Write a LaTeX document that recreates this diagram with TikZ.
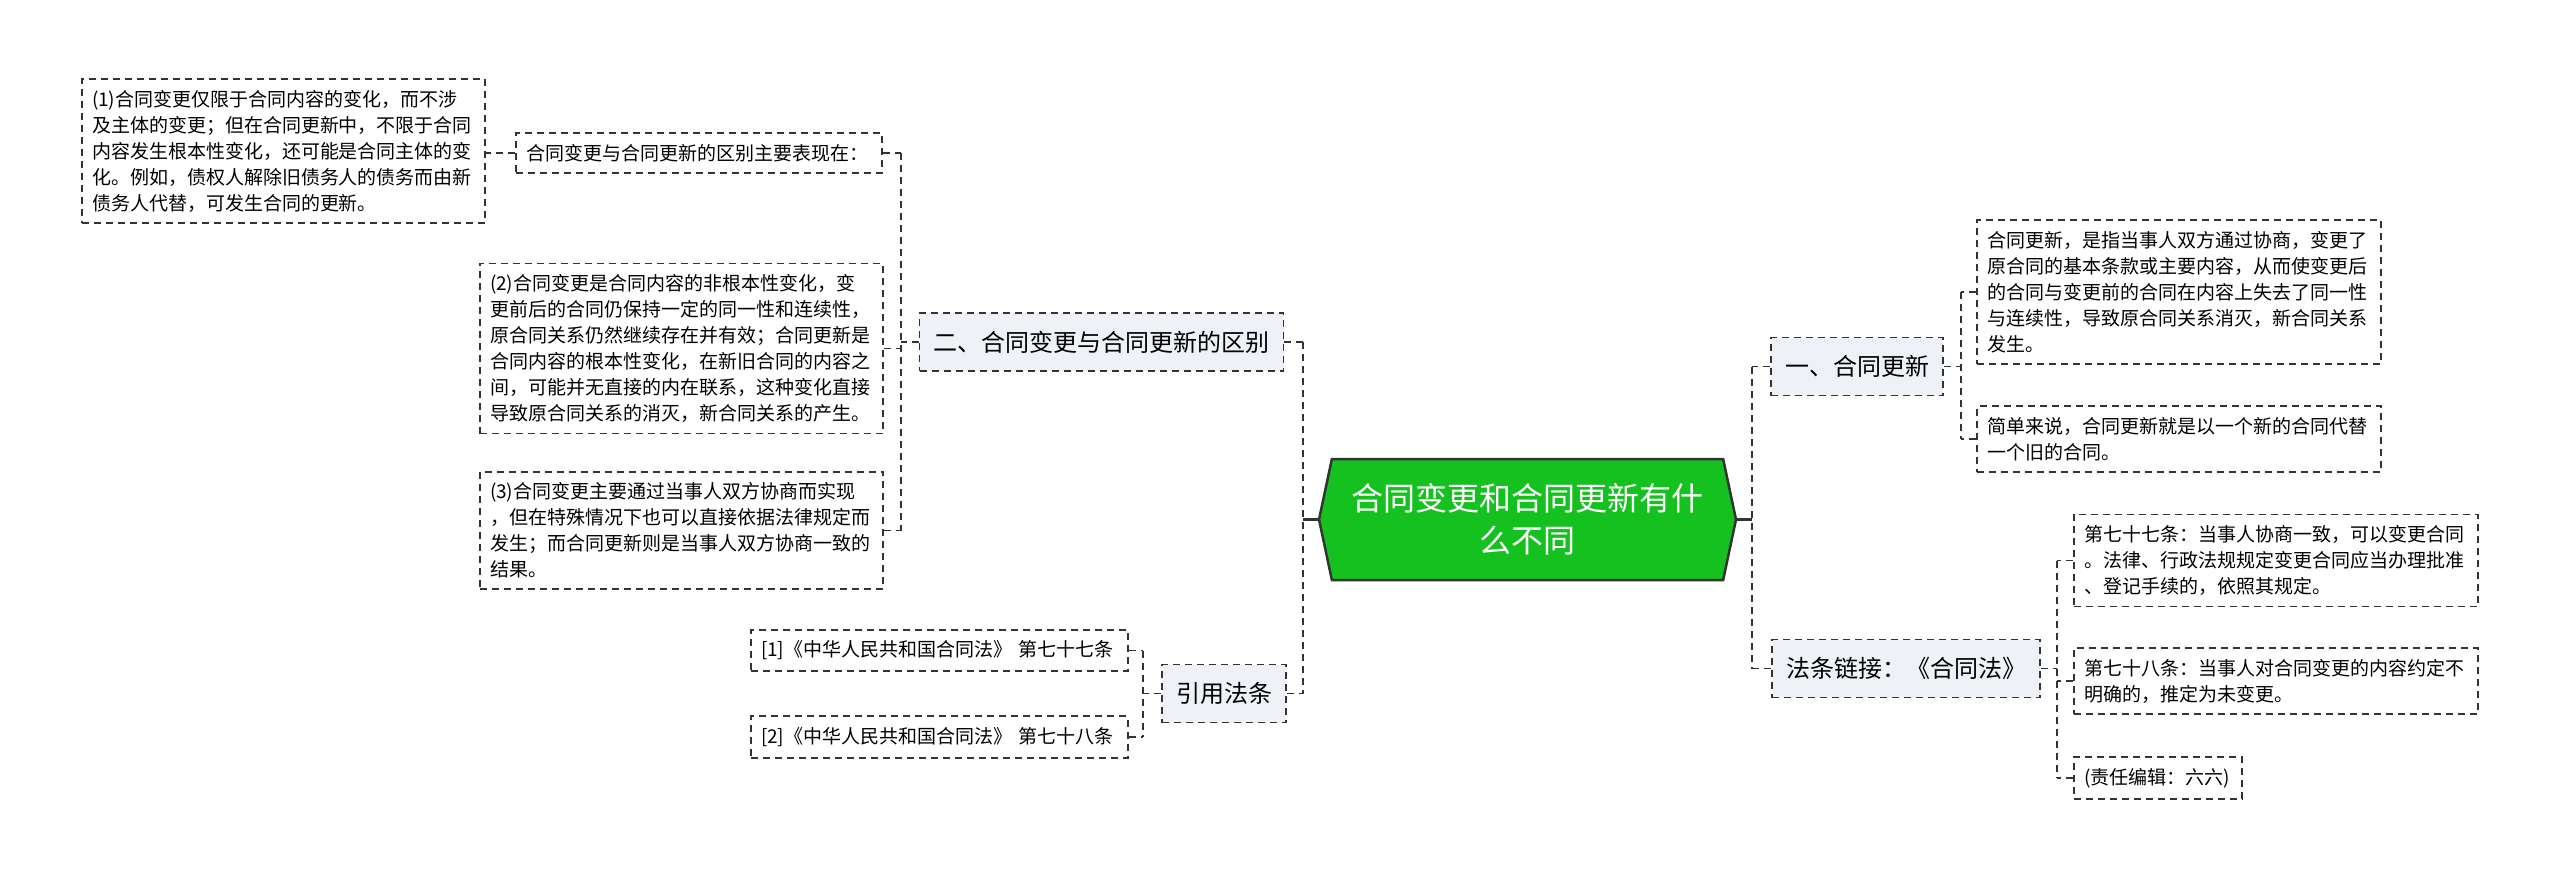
\documentclass[tikz,border=0pt]{standalone}
\usepackage{fontspec}
\usepackage{xcolor}
\usepackage{tikz}
\usetikzlibrary{positioning,shapes.symbols}
\newfontfamily\cjk{Noto Sans CJK SC}
\definecolor{edge}{HTML}{333333}
\definecolor{tagbg}{HTML}{EEF1F5}
\definecolor{rootbg}{HTML}{15C11F}

\begin{document}
\begin{tikzpicture}[x=1pt,y=-1pt,
 leaf/.style={draw=edge,line width=1.8pt,dash pattern=on 7pt off 5pt,align=left,inner xsep=10pt,inner ysep=11pt,font=\cjk\fontsize{19}{26}\selectfont},
 tag/.style={draw=edge,fill=tagbg,line width=1.8pt,dash pattern=on 7pt off 5pt,inner xsep=14pt,minimum height=58pt,font=\cjk\fontsize{24}{30}\selectfont},
 root/.style={shape=signal,signal to=east and west,signal pointer angle=156,draw=edge,fill=rootbg,line width=2.5pt,text=white,align=center,minimum width=417pt,minimum height=121pt,font=\cjk\fontsize{32}{42}\selectfont},
 link/.style={draw=edge,line width=1.8pt,dash pattern=on 7pt off 5pt},
 stem/.style={draw=edge,line width=2.5pt}]
\useasboundingbox[fill=white] (0,0) rectangle (2560,883);

% centre
\node[root] (root) at (1527.5,519.5) {合同变更和合同更新有什\\么不同};

% left branch
\node[tag] (n2) at (1101.5,342) {二、合同变更与合同更新的区别};
\node[leaf,text width=346pt] (bm) at (699,153) {合同变更与合同更新的区别主要表现在：};
\node[leaf,text width=383pt] (b1) at (283.5,151) {(1)合同变更仅限于合同内容的变化，而不涉\\及主体的变更；但在合同更新中，不限于合同\\内容发生根本性变化，还可能是合同主体的变\\化。例如，债权人解除旧债务人的债务而由新\\债务人代替，可发生合同的更新。};
\node[leaf,text width=383pt] (b2) at (681.5,348.5) {(2)合同变更是合同内容的非根本性变化，变\\更前后的合同仍保持一定的同一性和连续性，\\原合同关系仍然继续存在并有效；合同更新是\\合同内容的根本性变化，在新旧合同的内容之\\间，可能并无直接的内在联系，这种变化直接\\导致原合同关系的消灭，新合同关系的产生。};
\node[leaf,text width=383pt] (b3) at (681.5,530.5) {(3)合同变更主要通过当事人双方协商而实现\\，但在特殊情况下也可以直接依据法律规定而\\发生；而合同更新则是当事人双方协商一致的\\结果。};
\node[tag] (ny) at (1224,693.5) {引用法条};
\node[leaf,text width=357pt] (l1) at (939.5,650.5) {[1]《中华人民共和国合同法》 第七十七条};
\node[leaf,text width=357pt] (l2) at (939.5,737) {[2]《中华人民共和国合同法》 第七十八条};

% right branch
\node[tag] (n1) at (1857,366.5) {一、合同更新};
\node[leaf,text width=384pt] (a1) at (2179,292) {合同更新，是指当事人双方通过协商，变更了\\原合同的基本条款或主要内容，从而使变更后\\的合同与变更前的合同在内容上失去了同一性\\与连续性，导致原合同关系消灭，新合同关系\\发生。};
\node[leaf,text width=384pt] (a2) at (2179,439) {简单来说，合同更新就是以一个新的合同代替\\一个旧的合同。};
\node[tag] (nf) at (1906,668.5) {法条链接：《合同法》};
\node[leaf,text width=384pt] (c1) at (2276,560.5) {第七十七条：当事人协商一致，可以变更合同\\。法律、行政法规规定变更合同应当办理批准\\、登记手续的，依照其规定。};
\node[leaf,text width=384pt] (c2) at (2276,681) {第七十八条：当事人对合同变更的内容约定不\\明确的，推定为未变更。};
\node[leaf,text width=148pt] (c3) at (2158,778) {(责任编辑：六六)};

% trunks
\coordinate (tR) at (1303,0);
\coordinate (tA) at (901,0);
\coordinate (tY) at (1143,0);
\coordinate (tS) at (1752,0);
\coordinate (tC) at (1961,0);
\coordinate (tD) at (2057,0);

\draw[stem] (root.west) -- (root.west -| tR);
\draw[stem] (root.east) -- (root.east -| tS);
\draw[link] (tR |- n2.east) -- (tR |- ny.east);
\draw[link] (tS |- n1.west) -- (tS |- nf.west);
\foreach \c in {n2,ny} \draw[link] (\c.east) -- (\c.east -| tR);
\foreach \c in {n1,nf} \draw[link] (\c.west) -- (\c.west -| tS);

\draw[link] (tA |- bm.east) -- (tA |- b3.east);
\draw[link] (n2.west) -- (n2.west -| tA);
\foreach \c in {bm,b2,b3} \draw[link] (\c.east) -- (\c.east -| tA);
\draw[link] (bm.west) -- (bm.west -| b1.east);

\draw[link] (tY |- l1.east) -- (tY |- l2.east);
\draw[link] (ny.west) -- (ny.west -| tY);
\foreach \c in {l1,l2} \draw[link] (\c.east) -- (\c.east -| tY);

\draw[link] (tC |- a1.west) -- (tC |- a2.west);
\draw[link] (n1.east) -- (n1.east -| tC);
\foreach \c in {a1,a2} \draw[link] (\c.west) -- (\c.west -| tC);

\draw[link] (tD |- c1.west) -- (tD |- c3.west);
\draw[link] (nf.east) -- (nf.east -| tD);
\foreach \c in {c1,c2,c3} \draw[link] (\c.west) -- (\c.west -| tD);
\end{tikzpicture}
\end{document}
